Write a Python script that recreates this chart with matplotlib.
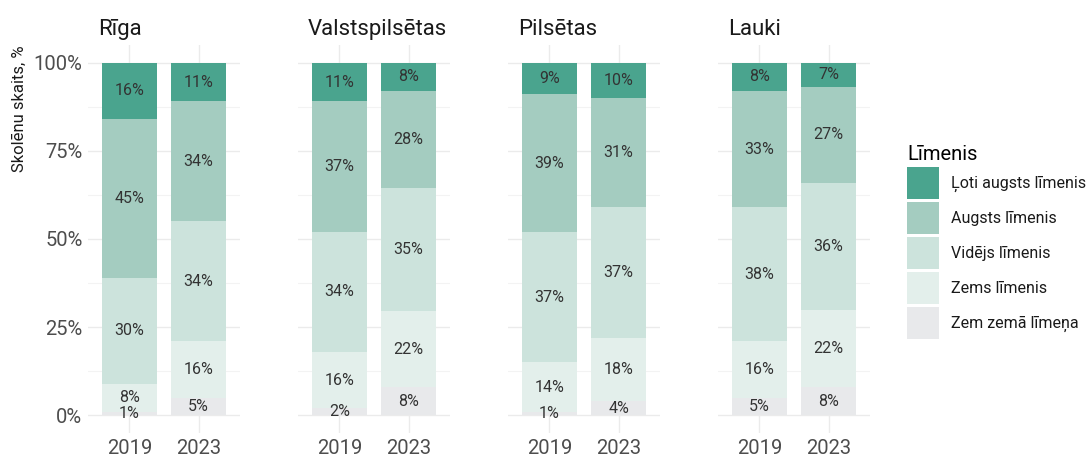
import numpy as np
import matplotlib
matplotlib.use("Agg")
import matplotlib.pyplot as plt
from matplotlib.patches import Patch

plt.rcParams['font.family'] = ['Roboto', 'DejaVu Sans']

# data (percent)
regions = ['Rīga', 'Valstspilsētas', 'Pilsētas', 'Lauki']
years = ['2019', '2023']
levels = ['Zem zemā līmeņa', 'Zems līmenis', 'Vidējs līmenis',
          'Augsts līmenis', 'Ļoti augsts līmenis']
colors = ['#e8e9eb', '#e3efeb', '#cce3dc', '#a4ccc0', '#4aa48e']

riga_2019 = [1, 8, 30, 45, 16]
riga_2023 = [5, 16, 34, 34, 11]
valsts_2019 = [2, 16, 34, 37, 11]
valsts_2023 = [8, 22, 35, 28, 8]
pils_2019 = [1, 14, 37, 39, 9]
pils_2023 = [4, 18, 37, 31, 10]
lauki_2019 = [5, 16, 38, 33, 8]
lauki_2023 = [8, 22, 36, 27, 7]

data = {
    'Rīga': [riga_2019, riga_2023],
    'Valstspilsētas': [valsts_2019, valsts_2023],
    'Pilsētas': [pils_2019, pils_2023],
    'Lauki': [lauki_2019, lauki_2023],
}

W, H = 1091, 459
fig = plt.figure(figsize=(W / 100, H / 100), dpi=100)

grid_col = '#ebebeb'
text_col = '#4d4d4d'
x = np.arange(len(years))

for i, reg in enumerate(regions):
    left = (88 + 210 * i) / W
    ax = fig.add_axes([left, 26 / H, 152 / W, 388 / H])
    for j, vals in enumerate(data[reg]):
        vals = np.array(vals, dtype=float)
        # stacked to fill (like position_fill), labels show the values
        frac = vals / vals.sum() * 100
        bottoms = np.concatenate([[0], np.cumsum(frac)[:-1]])
        ax.bar(np.full(len(frac), x[j]), frac, bottom=bottoms, width=0.8,
               color=colors, zorder=2)
        for v, b, f in zip(vals, bottoms, frac):
            ax.text(x[j], b + f / 2, '{:.0f}%'.format(v), ha='center',
                    va='center', fontsize=11.5, color='#333333', zorder=3)
    ax.set_xlim(-0.6, 1.6)
    ax.set_ylim(-5, 105)
    ax.set_xticks(x)
    ax.set_xticklabels(years)
    ax.set_yticks([0, 25, 50, 75, 100])
    ax.set_yticks([12.5, 37.5, 62.5, 87.5], minor=True)
    if i == 0:
        ax.set_yticklabels(['0%', '25%', '50%', '75%', '100%'])
        ax.set_ylabel('Skolēnu skaits, %', loc='top', fontsize=12,
                      color='#1a1a1a', labelpad=5)
    else:
        ax.set_yticklabels([])
    ax.tick_params(axis='both', which='both', length=0, labelsize=14.5,
                   colors=text_col, pad=4)
    ax.grid(True, which='major', color=grid_col, lw=1.0, zorder=0)
    ax.grid(True, which='minor', axis='y', color='#f3f3f3', lw=0.8, zorder=0)
    ax.set_axisbelow(True)
    for s in ax.spines.values():
        s.set_visible(False)
    ax.text(10 / 152, 1 + 10 / 388, reg, transform=ax.transAxes, ha='left',
            va='baseline', fontsize=16, color='#1a1a1a')

handles = [Patch(facecolor=c, edgecolor='none') for c in colors[::-1]]
leg = fig.legend(handles, levels[::-1], loc='upper left',
                 bbox_to_anchor=(893 / W, 1 - 131 / H), frameon=False,
                 title='Līmenis', title_fontsize=14.5, fontsize=11.5,
                 handlelength=2.0, handleheight=2.7, labelspacing=0.19,
                 handletextpad=0.75, alignment='left')
for t in leg.get_texts():
    t.set_color('#1a1a1a')

fig.savefig('out.png', dpi=100, facecolor='white')
